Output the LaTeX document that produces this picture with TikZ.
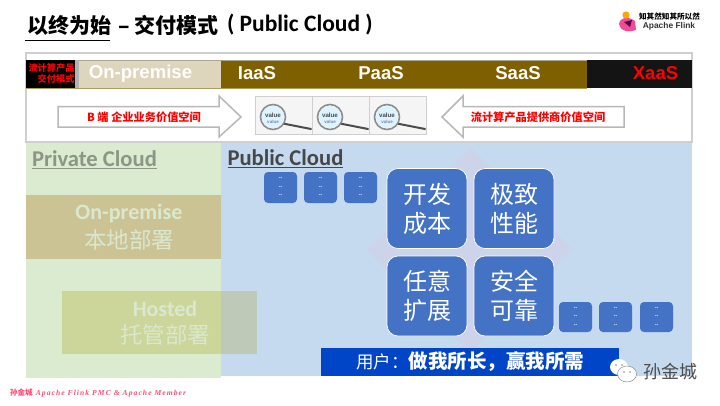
\documentclass[tikz,border=0pt]{standalone}
\usepackage{fontspec}
\setmainfont{Carlito}
\newfontfamily\cjk{Noto Sans CJK SC}
\newfontfamily\arialf{Liberation Sans}
\newfontfamily\serifit[LetterSpace=14]{Liberation Serif}
\newcommand{\fs}[1]{\fontsize{#1}{#1}\selectfont}
\definecolor{bgreen}{HTML}{DAEBD0}
\definecolor{bblue}{HTML}{C5DAEF}
\definecolor{brownb}{HTML}{7F6000}
\definecolor{beige}{HTML}{DDD5BC}
\definecolor{tile}{HTML}{4472C4}
\definecolor{diam}{HTML}{CDD3E8}
\definecolor{barb}{HTML}{0044C8}
\definecolor{pale}{HTML}{D9E8CE}
\definecolor{framegray}{HTML}{CFCFCF}
\definecolor{onpblock}{HTML}{CCC395}
\definecolor{hostgreen}{HTML}{CCD59A}
\definecolor{hostblue}{HTML}{BFC9B8}
\tikzset{
  x=1pt,y=-1pt,
  every node/.style={inner sep=0pt,outer sep=0pt},
  band/.style={font=\arialf\bfseries\fs{18.6},text=#1},
  bigtile/.style={draw=white,line width=.7pt,fill=tile,rounded corners=11pt,minimum width=80pt,minimum height=80pt,text=white,align=center,font=\cjk\fs{24},anchor=north west},
  smalltile/.style={fill=tile,rounded corners=4pt,minimum width=33pt,minimum height=31pt,text=white,align=center,font=\arialf\bfseries\fs{5},anchor=north west},
  valuebox/.style={draw=framegray,fill=white!96!black,line width=.7pt,minimum width=57pt,minimum height=38pt,anchor=north west},
  bigarrow/.style={draw=black!28,line width=1.5pt,fill=white},
  redlabel/.style={font=\cjk\bfseries\fs{11.2},text=red},
  palelabel/.style={text=pale,align=center},
}
\newcommand{\tinylines}{--\\[3.4pt]--\\[3.4pt]--}
\newcommand{\lens}[1]{%
  \draw[black!70,line width=2pt,line cap=round] ($(#1.center)+(-1,8)$) -- ($(#1.center)+(27,13.5)$);
  \draw[black!45,fill=black!3!white,line width=1.6pt] ($(#1.center)+(-11,1.5)$) circle (12.5);
  \fill[blue!30!cyan!14!white] ($(#1.center)+(-11,1.5)$) circle (11);
  \node[font=\arialf\bfseries\fs{6.2},text=black!70] at ($(#1.center)+(-11,0)$) {value};
  \node[font=\arialf\bfseries\fs{4.5},text=blue!40!black!50] at ($(#1.center)+(-11,6.5)$) {value};
}
\usetikzlibrary{calc,shapes.geometric}
\begin{document}
\begin{tikzpicture}
\useasboundingbox (0,0) rectangle (720,405);
\fill[white] (0,0) rectangle (720,405);
% title
\node[anchor=west,font=\cjk\bfseries\fs{21}] (title) at (27.5,25) {以终为始};
\node[anchor=west,font=\cjk\bfseries\fs{21}] (title2) at (118,25) {– 交付模式};
\node[anchor=west,font=\bfseries\fs{23.5}] (title3) at (227,25) {( Public Cloud )};
\draw[black,line width=.8pt] (25,40) -- (110,40);
% logo
\fill[black!15!red!60!magenta!70!white] (619,24) .. controls (620,17) and (628,16) .. (635,21) -- (636,30) .. controls (630,32) and (621,33) .. (619,24) -- cycle;
\fill[orange!70!yellow] (626,15) circle (3.6);
\fill[violet!70!black] (624,22) -- (632,20) -- (630,27) -- cycle;
\node[font=\cjk\bfseries\fs{7.6}] (logoa) at (669.5,16.5) {知其然知其所以然};
\node[font=\arialf\bfseries\fs{8.4},text=black!80] (logob) at (669,26.5) {Apache Flink};
% lower panels
\fill[bgreen] (26,143) rectangle (221,378);
\fill[bblue] (221,143) rectangle (692,376);
% frame
\draw[framegray,line width=1.2pt,fill=white] (26,53) rectangle (692,142);
% band
\fill[black] (26,60) rectangle (75,88);
\fill[black!30] (75,60) rectangle (79,88);
\fill[beige] (79,60) rectangle (221,88);
\fill[brownb] (221,60) rectangle (587,88);
\fill[black!92] (587,60) rectangle (692,88);
\draw[black!22!beige,line width=.6pt] (79,60.3) -- (587,60.3);
\draw[brownb!50!beige,line width=.8pt] (26,88) -- (587,88);
\node[font=\cjk\bfseries\fs{9.2},text=red,align=right,anchor=east] (cat) at (74.5,73.5) {流计算产品\\[1.4pt]交付模式};
\node[band=white!96!beige] (onp) at (140.5,73.5) {On-premise};
\node[band=white!90!beige] (iaas) at (257,73.5) {IaaS};
\node[band=white!90!beige] (paas) at (381,73.5) {PaaS};
\node[band=white!90!beige] (saas) at (518,73.5) {SaaS};
\node[band=red] (xaas) at (655.5,73.5) {XaaS};
% arrows
\draw[bigarrow] (58,106.5) -- (219,106.5) -- (219,96) -- (241,117) -- (219,137) -- (219,127) -- (58,127) -- cycle;
\node[redlabel] (blab) at (144,117) {B 端 企业业务价值空间};
\draw[bigarrow] (624,106.5) -- (463,106.5) -- (463,96) -- (442,117) -- (463,137) -- (463,127) -- (624,127) -- cycle;
\node[redlabel] (plab) at (538,117) {流计算产品提供商价值空间};
% value images
\node[valuebox] (v1) at (255.5,96.5) {};
\node[valuebox] (v2) at (312.5,96.5) {};
\node[valuebox] (v3) at (369.5,96.5) {};
\lens{v1}\lens{v2}\lens{v3}
% cloud headings
\node[anchor=west,font=\bfseries\fs{22.6},text=black!35!bgreen!90!gray] (priv) at (32,160) {\underline{Private Cloud}};
\node[anchor=west,font=\bfseries\fs{22.6},text=black!72] (pub) at (227.5,159) {\underline{Public Cloud}};
% deployment blocks
\fill[onpblock] (26,195) rectangle (221,259);
\node[palelabel,font=\bfseries\fs{22}] (onprem) at (129,213.5) {On-premise};
\node[palelabel,font=\cjk\fs{22.5}] (onpremcn) at (129,240) {本地部署};
\fill[hostgreen] (62,291) rectangle (221,354);
\fill[hostblue] (221,291) rectangle (257,354);
\node[palelabel,font=\bfseries\fs{22}] (hosted) at (165,308.5) {Hosted};
\node[palelabel,font=\cjk\fs{22.5}] (hostedcn) at (165,335) {托管部署};
% diamond
\fill[diam] (470,148) -- (573,250) -- (470,352) -- (367,250) -- cycle;
% big tiles
\node[bigtile] (t1) at (387,168.5) {开发\\[5pt]成本};
\node[bigtile] (t2) at (474,168.5) {极致\\[5pt]性能};
\node[bigtile] (t3) at (387,256) {任意\\[5pt]扩展};
\node[bigtile] (t4) at (474,256) {安全\\[5pt]可靠};
% small tiles
\node[smalltile] (s1) at (264,172) {\tinylines};
\node[smalltile] (s2) at (304,172) {\tinylines};
\node[smalltile] (s3) at (344,172) {\tinylines};
\node[smalltile,minimum height=30pt] (s4) at (559,302) {\tinylines};
\node[smalltile,minimum height=30pt] (s5) at (599,302) {\tinylines};
\node[smalltile,minimum height=30pt] (s6) at (640,302) {\tinylines};
% user bar
\fill[barb] (321,348) rectangle (619,376);
\node[anchor=west,text=white,font=\cjk\fs{17.5}] (user) at (356,362) {用户：{\bfseries\fs{19.5}做我所长，赢我所需}};
% footer
\node[anchor=west,font=\serifit\itshape\bfseries\fs{7.6},text=red!75!magenta!70!white] (foot) at (10,393.5) {{\cjk\bfseries 孙金城} Apache Flink PMC \& Apache Member};
% watermark
\fill[white] (619,367) ellipse (9 and 8);
\fill[white] (627,374) ellipse (9.5 and 8);
\draw[black!45,line width=.5pt] (627,374) ellipse (9.5 and 8);
\fill[black!45] (616,365) circle (.9) (622,365) circle (.9) (624,372) circle (.8) (630,372) circle (.8);
\node[anchor=west,font=\cjk\fs{18},text=black!70] (wm) at (643,372) {孙金城};
\end{tikzpicture}
\end{document}
